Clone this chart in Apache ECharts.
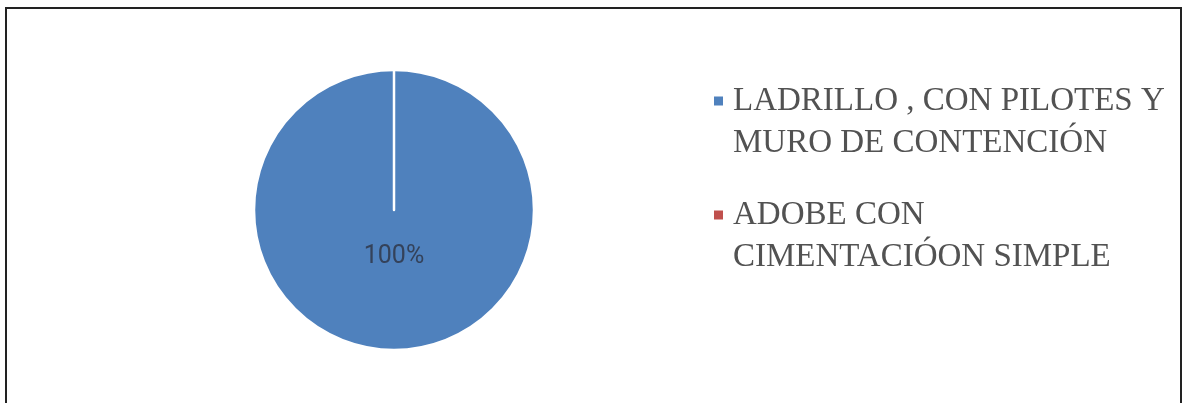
<!DOCTYPE html>
<html>
<head>
<meta charset="utf-8">
<script src="https://cdn.jsdelivr.net/npm/echarts@6/dist/echarts.min.js"></script>
<style>
  html, body { margin: 0; padding: 0; background: #fff; }
  #chart { width: 1182px; height: 403px; }
</style>
</head>
<body>
<div id="chart"></div>
<script>
// Foundation / wall types and their shares
const categories = [
  'LADRILLO , CON PILOTES Y MURO DE CONTENCIÓN',
  'ADOBE CON CIMENTACIÓON SIMPLE'
];
const legendLines = [
  ['LADRILLO , CON PILOTES Y', 'MURO DE CONTENCIÓN'],
  ['ADOBE CON', 'CIMENTACIÓON SIMPLE']
];
const values = [100, 0];
const colors = ['#4F81BD', '#C0504D'];

const chart = echarts.init(document.getElementById('chart'), null, { renderer: 'canvas' });

const data = categories.map((name, i) => ({
  name,
  value: values[i],
  itemStyle: { color: colors[i] },
  label: { show: values[i] > 0 }
}));

chart.setOption({
  animation: false,
  backgroundColor: '#ffffff',
  graphic: [{
    type: 'rect',
    shape: { x: 6, y: 8, width: 1175, height: 430 },
    style: { fill: 'none', stroke: '#222', lineWidth: 2 },
    silent: true
  }],
  legend: {
    orient: 'vertical',
    left: 712,
    top: 38,
    padding: 0,
    itemWidth: 11,
    itemHeight: 11,
    itemGap: -12,
    icon: 'rect',
    data: categories,
    // a leading empty line keeps the marker level with the first text line
    formatter: name => '\n' + legendLines[categories.indexOf(name)].join('\n'),
    textStyle: {
      fontFamily: '"Liberation Serif", "DejaVu Serif", serif',
      fontSize: 33,
      lineHeight: 42,
      color: '#525252',
      padding: [0, 0, 0, 4]
    }
  },
  series: [{
    type: 'pie',
    center: [394, 210],
    radius: 140,
    startAngle: 90,
    clockwise: true,
    data,
    itemStyle: { borderColor: '#ffffff', borderWidth: 2.5 },
    label: {
      position: 'center',
      formatter: '\n\n{d}%',
      lineHeight: 47,
      fontFamily: 'Roboto, "Open Sans", sans-serif',
      fontSize: 25,
      color: '#34425a'
    },
    labelLine: { show: false },
    emphasis: { disabled: true }
  }]
});
</script>
</body>
</html>
